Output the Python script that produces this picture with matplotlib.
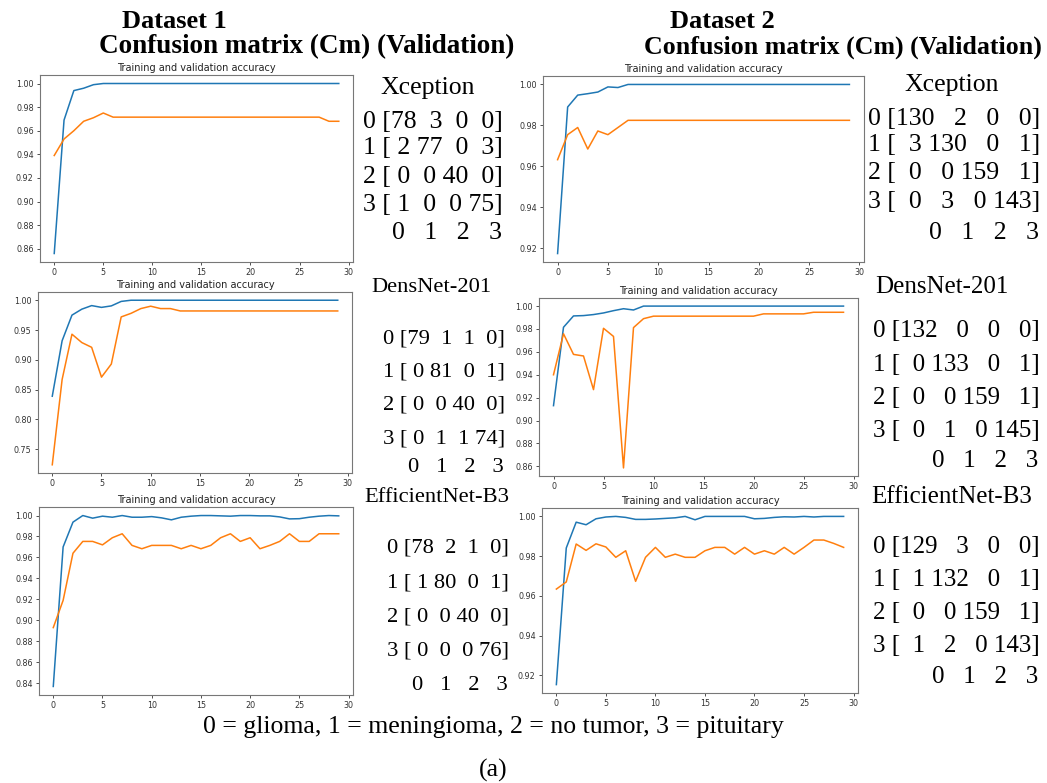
import matplotlib
matplotlib.use("Agg")
import matplotlib.pyplot as plt
from matplotlib.ticker import MultipleLocator
import numpy as np

# valores (30 epocas)
epocas = np.arange(30)

d1_xcep_train = [0.856, 0.969, 0.994, 0.996, 0.999] + [1.0] * 25
d1_xcep_val = [0.939, 0.953, 0.960, 0.968, 0.971, 0.975] + [0.9715] * 22 + [0.968, 0.968]

d2_xcep_train = [0.9175, 0.989, 0.9948, 0.9955, 0.9963, 0.9988, 0.9985] + [1.0] * 23
d2_xcep_val = [0.9633, 0.9755, 0.979, 0.9685, 0.9773, 0.9755, 0.979] + [0.9825] * 23

d1_dens_train = [0.839, 0.932, 0.975, 0.985, 0.991, 0.988, 0.9905, 0.998] + [1.0] * 22
d1_dens_val = [0.724, 0.867, 0.943, 0.929, 0.921, 0.871, 0.893, 0.972, 0.978, 0.986,
               0.990, 0.986, 0.986] + [0.982] * 17

d2_dens_train = [0.913, 0.9815, 0.9914, 0.9917, 0.9926, 0.994, 0.996, 0.9977, 0.9966] + [1.0] * 21
d2_dens_val = [0.940, 0.9758, 0.9578, 0.9564, 0.927, 0.9806, 0.9735, 0.8586, 0.9812, 0.989] \
    + [0.9912] * 11 + [0.9932] * 5 + [0.9946] * 4

d1_effi_train = [0.8368, 0.970, 0.9937, 1.0, 0.9975, 0.9994, 0.9984, 1.0, 0.9984, 0.9984,
                 0.999, 0.9978, 0.9959, 0.9984, 0.9994, 1.0, 1.0, 0.9997, 0.9994, 1.0,
                 1.0, 0.9997, 0.9997, 0.9987, 0.9968, 0.997, 0.9984, 0.9994, 1.0, 0.9997]
d1_effi_val = [0.893, 0.919, 0.964, 0.9753, 0.9753, 0.972, 0.9788, 0.9826, 0.9715, 0.9683,
               0.9715, 0.9715, 0.9715, 0.9683, 0.9715, 0.9683, 0.9715, 0.9788, 0.9826, 0.9753,
               0.9788, 0.9683, 0.9715, 0.9753, 0.9826, 0.9753, 0.9753, 0.9826, 0.9826, 0.9826]

d2_effi_train = [0.9153, 0.9841, 0.9971, 0.9958, 0.9988, 0.9997, 1.0, 0.9995, 0.9985, 0.9985,
                 0.9987, 0.999, 0.9993, 1.0, 0.9983, 1.0, 1.0, 1.0, 1.0, 1.0,
                 0.9988, 0.999, 0.9995, 0.9998, 0.9997, 1.0, 0.9997, 1.0, 1.0, 1.0]
d2_effi_val = [0.9634, 0.967, 0.9861, 0.9829, 0.9862, 0.9846, 0.9794, 0.9827, 0.9673, 0.9794,
               0.9844, 0.9794, 0.981, 0.9794, 0.9794, 0.9827, 0.9844, 0.9844, 0.981, 0.9844,
               0.981, 0.9827, 0.981, 0.9844, 0.981, 0.9844, 0.9881, 0.9881, 0.9864, 0.9844]

# matrices de confusion (validacion)
cm_d1_xcep = [[78, 3, 0, 0], [2, 77, 0, 3], [0, 0, 40, 0], [1, 0, 0, 75]]
cm_d1_dens = [[79, 1, 1, 0], [0, 81, 0, 1], [0, 0, 40, 0], [0, 1, 1, 74]]
cm_d1_effi = [[78, 2, 1, 0], [1, 80, 0, 1], [0, 0, 40, 0], [0, 0, 0, 76]]
cm_d2_xcep = [[130, 2, 0, 0], [3, 130, 0, 1], [0, 0, 159, 1], [0, 3, 0, 143]]
cm_d2_dens = [[132, 0, 0, 0], [0, 133, 0, 1], [0, 0, 159, 1], [0, 1, 0, 145]]
cm_d2_effi = [[129, 3, 0, 0], [1, 132, 0, 1], [0, 0, 159, 1], [1, 2, 0, 143]]

modelos = ["Xception", "DensNet-201", "EfficientNet-B3"]
clases = "0 = glioma, 1 = meningioma, 2 = no tumor, 3 = pituitary"

W, H = 1047, 783
fig = plt.figure(figsize=(W / 100, H / 100), dpi=100)
fondo = fig.add_axes([0, 0, 1, 1])
fondo.axis("off")
fondo.set_xlim(0, W)
fondo.set_ylim(H, 0)

SERIF = ["Liberation Serif", "DejaVu Serif"]


def panel(caja, train, val, paso_y):
    # caja = (izq, arriba, der, abajo) en pixeles
    x0, y0, x1, y1 = caja
    ax = fig.add_axes([x0 / W, 1 - y1 / H, (x1 - x0) / W, (y1 - y0) / H])
    ax.plot(epocas, train, color="#1f77b4", lw=1.1)
    ax.plot(epocas, val, color="#ff7f0e", lw=1.1)
    ax.xaxis.set_major_locator(MultipleLocator(5))
    ax.yaxis.set_major_locator(MultipleLocator(paso_y))
    ax.yaxis.set_major_formatter(plt.FormatStrFormatter("%.2f"))
    ax.tick_params(labelsize=5.8, length=2.5, width=0.6, pad=2,
                   colors="#333333")
    for s in ax.spines.values():
        s.set_color("#777777")
        s.set_linewidth(0.8)
    ax.set_title("Training and validation accuracy", fontsize=7, pad=3,
                 color="#222222")
    return ax


panel((40, 75, 353, 262), d1_xcep_train, d1_xcep_val, 0.02)
panel((543, 76, 864, 262), d2_xcep_train, d2_xcep_val, 0.02)
panel((38, 292, 352, 473), d1_dens_train, d1_dens_val, 0.05)
panel((539, 298, 858, 476), d2_dens_train, d2_dens_val, 0.02)
panel((39, 507, 353, 695), d1_effi_train, d1_effi_val, 0.02)
panel((542, 508, 858, 693), d2_effi_train, d2_effi_val, 0.02)


def matriz(cm, nombre, xn, yn, xi, filas_y, y_cols, tam=18.5):
    ancho = max(len(str(v)) for fila in cm for v in fila)
    fondo.text(xn, yn, nombre, family=SERIF, fontsize=tam,
               ha="center", va="center")
    ultimo = None
    for i, fila in enumerate(cm):
        s = str(i) + " [" + " ".join(str(v).rjust(ancho) for v in fila) + "]"
        ultimo = fondo.text(xi, filas_y[i], s, family=SERIF, fontsize=tam,
                            ha="left", va="center")
    fondo.annotate("0   1   2   3", xy=(1, 0.5), xycoords=ultimo,
                   xytext=(-1, -(y_cols - filas_y[-1])),
                   textcoords="offset pixels", family=SERIF, fontsize=tam,
                   ha="right", va="center")


matriz(cm_d1_xcep, modelos[0], 428, 88, 363, [122, 148, 177, 205], 233)
matriz(cm_d1_dens, modelos[1], 431, 287, 383, [339, 372, 405, 439], 467, 16.2)
matriz(cm_d1_effi, modelos[2], 437, 497, 387, [548, 583, 617, 651], 685, 16.2)
matriz(cm_d2_xcep, modelos[0], 952, 85, 868, [119, 145, 173, 202], 233)
matriz(cm_d2_dens, modelos[1], 942, 287, 873, [331, 365, 398, 431], 461, 18)
matriz(cm_d2_effi, modelos[2], 952, 497, 873, [547, 580, 613, 646], 677, 18)

# cabeceras
fondo.text(122, 22, "Dataset 1", family=SERIF, fontsize=19, weight="bold",
           ha="left", va="center")
fondo.text(99, 47, "Confusion matrix (Cm) (Validation)", family=SERIF,
           fontsize=19.5, weight="bold", ha="left", va="center")
fondo.text(670, 22, "Dataset 2", family=SERIF, fontsize=19, weight="bold",
           ha="left", va="center")
fondo.text(644, 47, "Confusion matrix (Cm) (Validation)", family=SERIF,
           fontsize=18.6, weight="bold", ha="left", va="center")

fondo.text(493, 727, clases, family=SERIF, fontsize=18.5, ha="center", va="center")
fondo.text(493, 770, "(a)", family=SERIF, fontsize=18.5, ha="center", va="center")

plt.savefig("out.png", dpi=100)
